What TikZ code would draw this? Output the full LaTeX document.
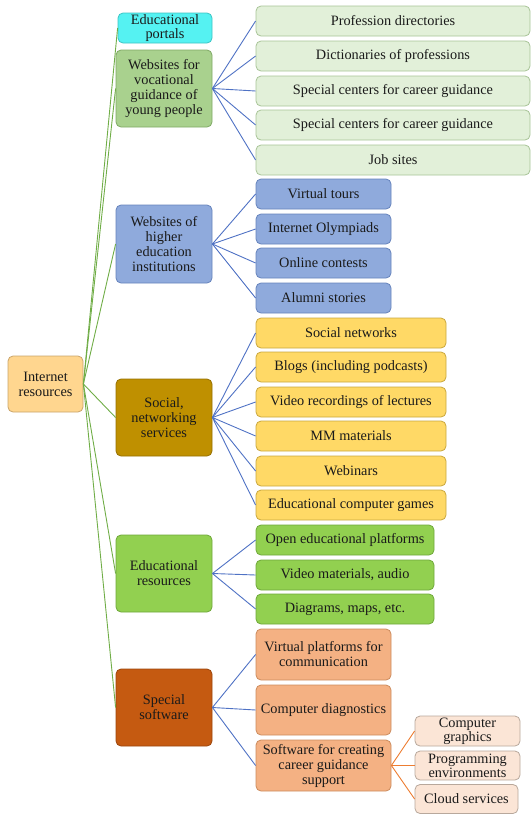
\documentclass[tikz,border=0pt]{standalone}
\usepackage{fontspec}
\setmainfont{Liberation Serif}
\newfontfamily\tnr{Liberation Serif}
\definecolor{txt}{HTML}{1A1A1A}
\definecolor{cInt}{HTML}{FFD68F}\definecolor{bInt}{HTML}{C9A46A}
\definecolor{cCyan}{HTML}{55F2F2}\definecolor{bCyan}{HTML}{3CC4C4}
\definecolor{cVoc}{HTML}{A9D18E}\definecolor{bVoc}{HTML}{7FA965}
\definecolor{cBlue}{HTML}{8FAADC}\definecolor{bBlue}{HTML}{6683BC}
\definecolor{cGold}{HTML}{BF9000}\definecolor{bGold}{HTML}{967000}
\definecolor{cGreen}{HTML}{92D050}\definecolor{bGreen}{HTML}{6FA83A}
\definecolor{cRust}{HTML}{C55A11}\definecolor{bRust}{HTML}{9C460C}
\definecolor{cLGreen}{HTML}{E2F0D9}\definecolor{bLGreen}{HTML}{A8C497}
\definecolor{cYel}{HTML}{FFD966}\definecolor{bYel}{HTML}{C9A73E}
\definecolor{cOra}{HTML}{F4B183}\definecolor{bOra}{HTML}{CC8C5E}
\definecolor{cPea}{HTML}{FBE5D6}\definecolor{bPea}{HTML}{B8A89C}
\definecolor{lGreen}{HTML}{70AD47}
\definecolor{lBlue}{HTML}{4F72C4}
\definecolor{lOra}{HTML}{ED7D31}
\tikzset{
  bx/.style n args={4}{draw=#2, fill=#1, rounded corners=5pt, line width=0.8pt,
    minimum width=#3, minimum height=#4, inner sep=0pt, align=center,
    text=txt, font=\tnr\fontsize{14.3}{15}\selectfont},
  gl/.style={draw=lGreen, line width=0.9pt},
  bl/.style={draw=lBlue, line width=0.9pt},
  ol/.style={draw=lOra, line width=0.9pt},
}
\begin{document}
\begin{tikzpicture}[x=1pt,y=-1pt]
\useasboundingbox (0,0) rectangle (531,814);
% level 0
\node[bx={cInt}{bInt}{75pt}{56pt}] (ir) at (45.5,384) {Internet\\resources};
% level 1
\node[bx={cCyan}{bCyan}{94pt}{30pt}, font=\tnr\fontsize{14.3}{13.5}\selectfont] (ep) at (165,28) {Educational\\portals};
\node[bx={cVoc}{bVoc}{96pt}{77pt}] (voc) at (164,88.5) {Websites for\\vocational\\guidance of\\young people};
\node[bx={cBlue}{bBlue}{96pt}{78pt}] (hei) at (164,244) {Websites of\\higher\\education\\institutions};
\node[bx={cGold}{bGold}{96pt}{77pt}] (soc) at (164,417.5) {Social,\\networking\\services};
\node[bx={cGreen}{bGreen}{96pt}{77pt}] (edr) at (164,573.5) {Educational\\resources};
\node[bx={cRust}{bRust}{96pt}{77pt}] (ssw) at (164,707.5) {Special\\software};
% level 2: vocational
\node[bx={cLGreen}{bLGreen}{274pt}{30pt}] (v1) at (393,21) {Profession directories};
\node[bx={cLGreen}{bLGreen}{274pt}{30pt}] (v2) at (393,56) {Dictionaries of professions};
\node[bx={cLGreen}{bLGreen}{274pt}{30pt}] (v3) at (393,91) {Special centers for career guidance};
\node[bx={cLGreen}{bLGreen}{274pt}{30pt}] (v4) at (393,125) {Special centers for career guidance};
\node[bx={cLGreen}{bLGreen}{274pt}{30pt}] (v5) at (393,160) {Job sites};
% higher education
\node[bx={cBlue}{bBlue}{135pt}{30pt}] (h1) at (323.5,194) {Virtual tours};
\node[bx={cBlue}{bBlue}{135pt}{30pt}] (h2) at (323.5,229) {Internet Olympiads};
\node[bx={cBlue}{bBlue}{135pt}{30pt}] (h3) at (323.5,263) {Online contests};
\node[bx={cBlue}{bBlue}{135pt}{30pt}] (h4) at (323.5,298) {Alumni stories};
% social
\node[bx={cYel}{bYel}{190pt}{30pt}] (s1) at (351,333) {Social networks};
\node[bx={cYel}{bYel}{190pt}{30pt}] (s2) at (351,367) {Blogs (including podcasts)};
\node[bx={cYel}{bYel}{190pt}{30pt}] (s3) at (351,402) {Video recordings of lectures};
\node[bx={cYel}{bYel}{190pt}{30pt}] (s4) at (351,436) {MM materials};
\node[bx={cYel}{bYel}{190pt}{30pt}] (s5) at (351,471) {Webinars};
\node[bx={cYel}{bYel}{190pt}{30pt}] (s6) at (351,505) {Educational computer games};
% educational resources
\node[bx={cGreen}{bGreen}{178pt}{30pt}] (e1) at (345,540) {Open educational platforms};
\node[bx={cGreen}{bGreen}{178pt}{30pt}] (e2) at (345,575) {Video materials, audio};
\node[bx={cGreen}{bGreen}{178pt}{30pt}] (e3) at (345,609) {Diagrams, maps, etc.};
% special software
\node[bx={cOra}{bOra}{135pt}{51pt}] (o1) at (323.5,654.5) {Virtual platforms for\\communication};
\node[bx={cOra}{bOra}{135pt}{50pt}] (o2) at (323.5,710) {Computer diagnostics};
\node[bx={cOra}{bOra}{135pt}{51pt}] (o3) at (323.5,765.5) {Software for creating\\career guidance\\support};
% level 3
\node[bx={cPea}{bPea}{105pt}{30pt}, font=\tnr\fontsize{14.3}{14}\selectfont] (p1) at (467.5,731) {Computer\\graphics};
\node[bx={cPea}{bPea}{105pt}{29pt}, font=\tnr\fontsize{14.3}{14}\selectfont] (p2) at (467.5,765.5) {Programming\\environments};
\node[bx={cPea}{bPea}{103pt}{29pt}] (p3) at (466.5,799) {Cloud services};
% connectors
\foreach \t in {ep,voc,hei,soc,edr,ssw} \draw[gl] (ir.east) -- (\t.west);
\foreach \t in {v1,v2,v3,v4,v5} \draw[bl] (voc.east) -- (\t.west);
\foreach \t in {h1,h2,h3,h4} \draw[bl] (hei.east) -- (\t.west);
\foreach \t in {s1,s2,s3,s4,s5,s6} \draw[bl] (soc.east) -- (\t.west);
\foreach \t in {e1,e2,e3} \draw[bl] (edr.east) -- (\t.west);
\foreach \t in {o1,o2,o3} \draw[bl] (ssw.east) -- (\t.west);
\foreach \t in {p1,p2,p3} \draw[ol] (o3.east) -- (\t.west);
\end{tikzpicture}
\end{document}
